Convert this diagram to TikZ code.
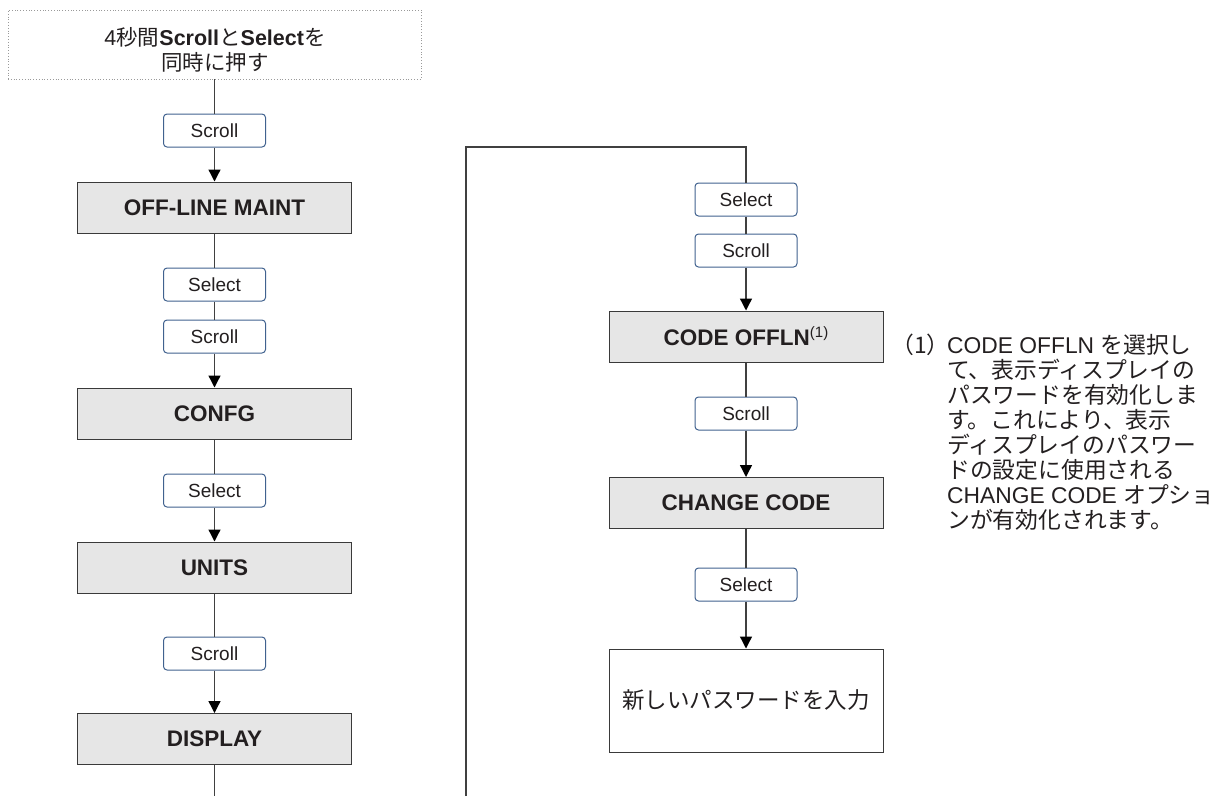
\documentclass[tikz,border=0pt]{standalone}
\usepackage{fontspec}
\setmainfont{Liberation Sans}
\newfontfamily\jp{Noto Sans CJK JP}
\usetikzlibrary{arrows.meta}
\definecolor{boxfill}{HTML}{E6E6E6}
\definecolor{boxline}{HTML}{3A3A3A}
\definecolor{btnline}{HTML}{41628F}
\definecolor{connc}{HTML}{404040}
\definecolor{txt}{HTML}{231F20}
\definecolor{dotc}{HTML}{9A9A9A}
\begin{document}
\begin{tikzpicture}[x=1pt,y=-1pt,
  gbox/.style={draw=boxline, line width=1pt, fill=boxfill, minimum width=274pt, minimum height=51pt, inner sep=0pt, font=\fontsize{22.5}{26}\selectfont\bfseries, text=txt},
  btn/.style={draw=btnline, line width=1pt, fill=white, rounded corners=3.5pt, minimum width=102pt, minimum height=33pt, inner sep=0pt, font=\fontsize{19}{22}\selectfont, text=txt},
  conn/.style={draw=connc, line width=1.3pt, line join=miter},
  arr/.style={conn, -{Triangle[length=12pt,width=12pt,color=black]}}
]
\useasboundingbox (0,0) rectangle (1222,796);

% start box
\node[draw=dotc, line width=0.8pt, dash pattern=on 0.8pt off 2pt, minimum width=413pt, minimum height=69pt, inner sep=0pt] (start) at (214.5,44.5) {};
\node[align=center, font=\fontsize{21.5}{25}\selectfont, text=txt, inner sep=0pt] (starttxt) at (215,50) {4{\jp 秒間}\textbf{Scroll}{\jp と}\textbf{Select}{\jp を}\\{\jp 同時に押す}};

% left column
\node[btn] (s1) at (214.5,130.5) {Scroll};
\node[gbox] (offline) at (214.5,207.5) {OFF-LINE MAINT};
\node[btn] (sel1) at (214.5,284.5) {Select};
\node[btn] (s2) at (214.5,336.5) {Scroll};
\node[gbox] (confg) at (214.5,413.5) {CONFG};
\node[btn] (sel2) at (214.5,490.5) {Select};
\node[gbox] (units) at (214.5,567.5) {UNITS};
\node[btn] (s3) at (214.5,653.5) {Scroll};
\node[gbox] (display) at (214.5,739) {DISPLAY};
\coordinate (lend) at (214.5,796);

\draw[conn] (start) -- (s1);
\draw[arr] (s1) -- (offline);
\draw[conn] (offline) -- (sel1);
\draw[conn] (sel1) -- (s2);
\draw[arr] (s2) -- (confg);
\draw[conn] (confg) -- (sel2);
\draw[arr] (sel2) -- (units);
\draw[conn] (units) -- (s3);
\draw[arr] (s3) -- (display);
\draw[conn] (display) -- (lend);

% right column
\node[btn] (sel3) at (746,199.5) {Select};
\node[btn] (s4) at (746,250.5) {Scroll};
\node[gbox] (offln) at (746,336.5) {CODE OFFLN{\normalfont\fontsize{15}{15}\selectfont\raisebox{8pt}{(1)}}};
\node[btn] (s5) at (746,413.5) {Scroll};
\node[gbox] (change) at (746,503) {CHANGE CODE};
\node[btn] (sel4) at (746,584.5) {Select};
\node[draw=boxline, line width=1pt, fill=white, minimum width=274pt, minimum height=103pt, inner sep=0pt, font=\jp\fontsize{22.5}{26}\selectfont, text=txt] (input) at (746,700.5) {新しいパスワードを入力};

\coordinate (rb) at (466,796);
\coordinate (rt) at (466,147);
\draw[conn] (rb) -- (rt) -- (rt -| sel3.north) -- (sel3.north);
\draw[conn] (sel3) -- (s4);
\draw[arr] (s4) -- (offln);
\draw[conn] (offln) -- (s5);
\draw[arr] (s5) -- (change);
\draw[conn] (change) -- (sel4);
\draw[arr] (sel4) -- (input);

% note
\node[anchor=west, inner sep=0pt, font=\jp\fontsize{22.8}{25}\selectfont, text=txt] (notenum) at (891,345) {（1）};
\node[anchor=west, align=left, inner sep=0pt, font=\fontsize{22.8}{25}\selectfont, text=txt] (note) at (947,432.5) {%
CODE OFFLN {\jp を選択し}\\
{\jp て、表示ディスプレイの}\\
{\jp パスワードを有効化しま}\\
{\jp す。これにより、表示}\\
{\jp ディスプレイのパスワー}\\
{\jp ドの設定に使用される}\\
CHANGE CODE {\jp オプショ}\\
{\jp ンが有効化されます。}};
\end{tikzpicture}
\end{document}
